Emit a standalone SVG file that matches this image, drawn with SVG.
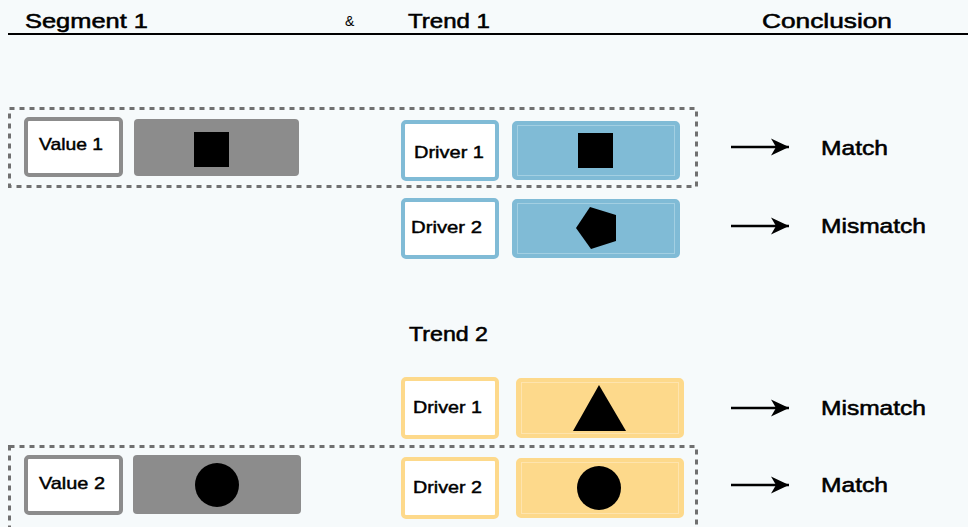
<svg xmlns="http://www.w3.org/2000/svg" width="968" height="527" viewBox="0 0 968 527">
<defs>
<style>
.t{font-family:"Liberation Sans",Arial,sans-serif;font-weight:normal;fill:#000;stroke:#000;stroke-width:0.55}
.h{font-size:21px}
.lbl{font-size:17px;stroke-width:0.45}
.res{font-size:21px}
.vbox{fill:#fff;stroke:#8c8c8c;stroke-width:4}
.gbar{fill:#8c8c8c}
.bbox{fill:#fff;stroke:#80bbd6;stroke-width:4}
.bbar{fill:#80bbd6;stroke:#80bbd6;stroke-width:2}
.binner{fill:none;stroke:#a3cfe2;stroke-width:1}
.ybox{fill:#fff;stroke:#fdd98b;stroke-width:4}
.ybar{fill:#fdd98b;stroke:#fdd98b;stroke-width:2}
.yinner{fill:none;stroke:#fee4ae;stroke-width:1}
.dash{fill:none;stroke:#707070;stroke-width:3;stroke-dasharray:5 5}
.arr{stroke:#000;stroke-width:2.5;fill:none;marker-end:url(#ah)}
</style>
<marker id="ah" markerWidth="19" markerHeight="19" viewBox="0 0 19 19" refX="18" refY="9.5" orient="auto" markerUnits="userSpaceOnUse">
<path d="M0,1 L18,9.5 L0,18 L5,9.5 Z" fill="#000"/>
</marker>
</defs>
<rect width="968" height="527" fill="#f6fafb"/>

<g id="header">
<text class="t h" x="25" y="28" textLength="123" lengthAdjust="spacingAndGlyphs">Segment 1</text>
<text x="345" y="26" font-family="Liberation Sans,Arial,sans-serif" font-size="14" fill="#000">&amp;</text>
<text class="t h" x="408" y="28" textLength="82" lengthAdjust="spacingAndGlyphs">Trend 1</text>
<text class="t h" x="762" y="28" textLength="130" lengthAdjust="spacingAndGlyphs">Conclusion</text>
<line x1="8" y1="34" x2="968" y2="34" stroke="#000" stroke-width="2"/>
</g>

<g id="trend2-title">
<text class="t h" x="409" y="341" textLength="79" lengthAdjust="spacingAndGlyphs">Trend 2</text>
</g>

<g id="group-match-1">
<rect class="dash" x="9.5" y="108.5" width="687" height="78"/>
</g>
<g id="group-match-2">
<rect class="dash" x="9.5" y="446.5" width="687" height="100"/>
</g>

<g id="value1">
<rect class="vbox" x="26" y="119" width="95" height="56" rx="3"/>
<text class="t lbl" x="39" y="150" textLength="64" lengthAdjust="spacingAndGlyphs">Value 1</text>
</g>
<g id="value1-bar">
<rect class="gbar" x="134" y="119" width="165" height="57" rx="4"/>
<rect x="194" y="132" width="35" height="35" fill="#000"/>
</g>

<g id="value2">
<rect class="vbox" x="26" y="457" width="95" height="56" rx="3"/>
<text class="t lbl" x="39" y="489" textLength="66" lengthAdjust="spacingAndGlyphs">Value 2</text>
</g>
<g id="value2-bar">
<rect class="gbar" x="133" y="455" width="168" height="59" rx="4"/>
<circle cx="217" cy="485" r="22" fill="#000"/>
</g>

<g id="t1-driver1">
<rect class="bbox" x="403" y="122" width="94" height="57" rx="3"/>
<text class="t lbl" x="414" y="158" textLength="70" lengthAdjust="spacingAndGlyphs">Driver 1</text>
</g>
<g id="t1-driver1-bar">
<rect class="bbar" x="513" y="122" width="166" height="57" rx="4"/>
<rect class="binner" x="517.5" y="125.5" width="157" height="50"/>
<rect x="578" y="133" width="35" height="35" fill="#000"/>
</g>

<g id="t1-driver2">
<rect class="bbox" x="403" y="200" width="94" height="57" rx="3"/>
<text class="t lbl" x="411" y="233" textLength="71" lengthAdjust="spacingAndGlyphs">Driver 2</text>
</g>
<g id="t1-driver2-bar">
<rect class="bbar" x="513" y="200" width="166" height="57" rx="4"/>
<rect class="binner" x="517.5" y="203.5" width="157" height="50"/>
<polygon points="590,207 616,215 616,241 591,249 576,228" fill="#000"/>
</g>

<g id="t2-driver1">
<rect class="ybox" x="403" y="379" width="94" height="58" rx="3"/>
<text class="t lbl" x="413" y="413" textLength="69" lengthAdjust="spacingAndGlyphs">Driver 1</text>
</g>
<g id="t2-driver1-bar">
<rect class="ybar" x="517" y="379" width="166" height="58" rx="4"/>
<rect class="yinner" x="521.5" y="382.5" width="157" height="51"/>
<polygon points="599,385 626,431 573,431" fill="#000"/>
</g>

<g id="t2-driver2">
<rect class="ybox" x="403" y="459" width="94" height="58" rx="3"/>
<text class="t lbl" x="413" y="493" textLength="69" lengthAdjust="spacingAndGlyphs">Driver 2</text>
</g>
<g id="t2-driver2-bar">
<rect class="ybar" x="517" y="459" width="166" height="58" rx="4"/>
<rect class="yinner" x="521.5" y="462.5" width="157" height="51"/>
<circle cx="599" cy="488" r="22" fill="#000"/>
</g>

<g id="connectors">
<line class="arr" x1="731" y1="147" x2="789" y2="147"/>
<line class="arr" x1="731" y1="226" x2="789" y2="226"/>
<line class="arr" x1="731" y1="408" x2="789" y2="408"/>
<line class="arr" x1="731" y1="485" x2="789" y2="485"/>
</g>

<g id="results">
<text class="t res" x="821" y="155" textLength="67" lengthAdjust="spacingAndGlyphs">Match</text>
<text class="t res" x="821" y="233" textLength="105" lengthAdjust="spacingAndGlyphs">Mismatch</text>
<text class="t res" x="821" y="415" textLength="105" lengthAdjust="spacingAndGlyphs">Mismatch</text>
<text class="t res" x="821" y="492" textLength="67" lengthAdjust="spacingAndGlyphs">Match</text>
</g>
</svg>
